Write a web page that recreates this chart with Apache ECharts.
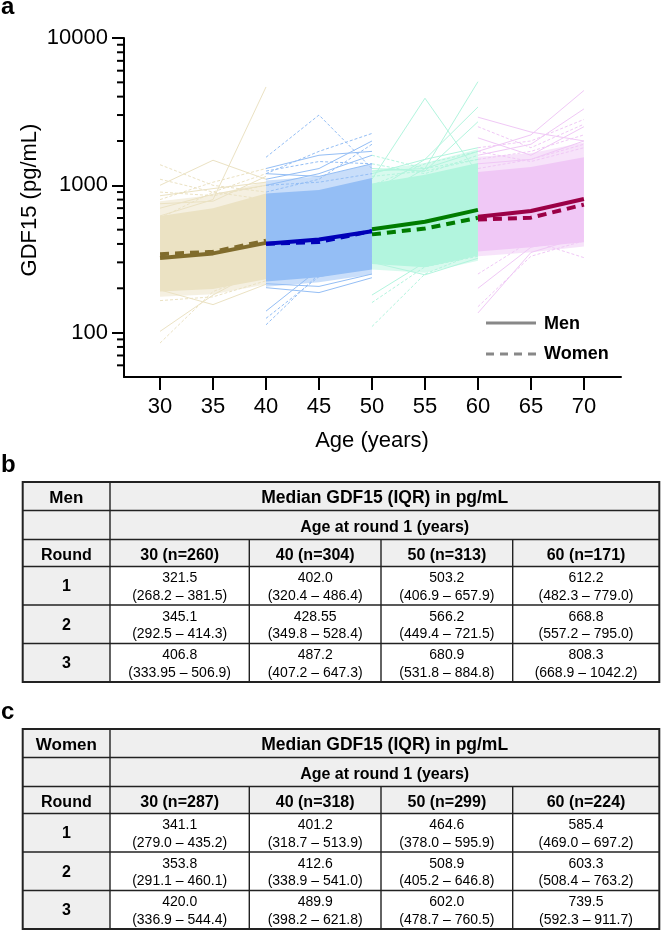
<!DOCTYPE html>
<html><head><meta charset="utf-8">
<script src="https://cdn.jsdelivr.net/npm/echarts@6/dist/echarts.min.js"></script>
<style>html,body{margin:0;padding:0;background:#fff}#c{width:661px;height:933px}</style>
</head><body><div id="c"></div>
<script>
// ---------- DATA ----------
const cohorts = ['30', '40', '50', '60'];
const roundAges = [[30, 35, 40], [40, 45, 50], [50, 55, 60], [60, 65, 70]];
const xTicks = [30, 35, 40, 45, 50, 55, 60, 65, 70];
const yMajorTicks = [100, 1000, 10000];
const yMinorTicks = [60, 70, 80, 90, 200, 300, 400, 500, 600, 700, 800, 900,
  2000, 3000, 4000, 5000, 6000, 7000, 8000, 9000];

const menN = [260, 304, 313, 171];
const womenN = [287, 318, 299, 224];

// medians per cohort, rounds 1..3
const menMedian = [['321.5', '345.1', '406.8'], ['402.0', '428.55', '487.2'], ['503.2', '566.2', '680.9'], ['612.2', '668.8', '808.3']];
const womenMedian = [['341.1', '353.8', '420.0'], ['401.2', '412.6', '489.9'], ['464.6', '508.9', '602.0'], ['585.4', '603.3', '739.5']];
// IQR per cohort, rounds 1..3
const menIQR = [
  [['268.2', '381.5'], ['292.5', '414.3'], ['333.95', '506.9']],
  [['320.4', '486.4'], ['349.8', '528.4'], ['407.2', '647.3']],
  [['406.9', '657.9'], ['449.4', '721.5'], ['531.8', '884.8']],
  [['482.3', '779.0'], ['557.2', '795.0'], ['668.9', '1042.2']]];
const womenIQR = [
  [['279.0', '435.2'], ['291.1', '460.1'], ['336.9', '544.4']],
  [['318.7', '513.9'], ['338.9', '541.0'], ['398.2', '621.8']],
  [['378.0', '595.9'], ['405.2', '646.8'], ['478.7', '760.5']],
  [['469.0', '697.2'], ['508.4', '763.2'], ['592.3', '911.7']]];

// dense region of individual trajectories, per cohort
const bandLow = [[190, 198, 230], [222, 238, 268], [292, 278, 332], [355, 380, 410]];
const bandHigh = [[620, 700, 880], [880, 930, 1120], [1030, 1180, 1420], [1230, 1330, 1550]];
// looser fringe of trajectories around the dense region
const fringeLow = [[175, 182, 212], [205, 220, 248], [268, 255, 308], [330, 352, 385]];
const fringeHigh = [[780, 860, 1060], [1080, 1150, 1400], [1260, 1420, 1760], [1560, 1650, 1950]];

// sparse individual trajectories (estimates)
const menTraj = [
  [[1000, 1480, 1100], [620, 800, 4650], [850, 950, 1050], [700, 870, 1000], [102, 180, 280], [195, 155, 213], [750, 780, 1150]],
  [[1300, 1600, 1700], [1100, 1300, 2000], [1000, 1200, 1600], [202, 187, 236], [215, 206, 250], [140, 270, 330], [1200, 1150, 1400]],
  [[1100, 3900, 1200], [800, 1300, 5050], [900, 1500, 3400], [1200, 1500, 1800], [1300, 1250, 2700], [180, 300, 350], [300, 247, 320], [1250, 1300, 1700]],
  [[2900, 2300, 2000], [1700, 2200, 4400], [1600, 1900, 3300], [2100, 1600, 2500], [136, 350, 450], [200, 380, 450], [1400, 1500, 2000]]];
const womenTraj = [
  [[1380, 1000, 900], [1100, 900, 1200], [800, 1050, 1300], [600, 900, 800], [85, 190, 260], [165, 175, 225], [900, 850, 1000]],
  [[1550, 3000, 1300], [1200, 1700, 2250], [1250, 1450, 1400], [900, 1100, 1900], [113, 250, 300], [125, 240, 280], [1000, 1050, 1200]],
  [[1400, 1200, 1600], [1000, 1400, 1700], [1600, 1300, 1500], [110, 250, 350], [160, 280, 330], [1150, 1250, 1500]],
  [[2500, 1800, 2600], [1800, 2000, 2800], [1500, 1700, 2200], [1300, 1500, 1900], [150, 330, 420], [250, 420, 323], [1700, 1450, 1800]]];

// ---------- STYLE ----------
const fam = "'Liberation Sans', Arial, Helvetica, sans-serif";
const fillColors = ['#ebe2c3', '#94bef5', '#b2f5de', '#f0c8f6'];
const medColors = ['#806c2c', '#0000b8', '#007c00', '#9b0046'];
const X_MIN = 26.6, X_MAX = 73.5;

function bandSeries(i, lo, hi, opacity, z) {
  const xs = roundAges[i];
  const item = [];
  for (let k = 0; k < 3; k++) item.push(xs[k], lo[i][k], hi[i][k]);
  return {
    type: 'custom', coordinateSystem: 'cartesian2d', silent: true, z: z,
    encode: { x: [0, 3, 6], y: [1, 2, 4, 5, 7, 8] },
    data: [item],
    renderItem: (params, api) => {
      const pts = [];
      for (let k = 0; k < 3; k++) pts.push(api.coord([api.value(k * 3), api.value(k * 3 + 2)]));
      for (let k = 2; k >= 0; k--) pts.push(api.coord([api.value(k * 3), api.value(k * 3 + 1)]));
      return { type: 'polygon', shape: { points: pts }, style: { fill: fillColors[i], opacity: opacity } };
    }
  };
}

const series = [];
cohorts.forEach((c, i) => {
  const xs = roundAges[i];
  series.push(bandSeries(i, fringeLow, fringeHigh, 0.5, 1));
  series.push(bandSeries(i, bandLow, bandHigh, 1, 2));
  const addLine = (vals, dashed) => series.push({
    type: 'line', silent: true, symbol: 'none', z: 3,
    data: xs.map((x, k) => [x, vals[k]]),
    lineStyle: { width: 1, color: fillColors[i], type: dashed ? [3, 2] : 'solid' }
  });
  menTraj[i].forEach(v => addLine(v, false));
  womenTraj[i].forEach(v => addLine(v, true));
});
cohorts.forEach((c, i) => {
  const xs = roundAges[i];
  series.push({
    type: 'line', silent: true, symbol: 'none', z: 10,
    data: xs.map((x, k) => [x, Number(menMedian[i][k])]),
    lineStyle: { width: 4, color: medColors[i] }
  });
  series.push({
    type: 'line', silent: true, symbol: 'none', z: 11,
    data: xs.map((x, k) => [x, Number(womenMedian[i][k])]),
    lineStyle: { width: 4, color: medColors[i], type: [9, 6] }
  });
});
// minor ticks of the log axis, placed through the axis scale
series.push({
  type: 'custom', coordinateSystem: 'cartesian2d', silent: true, z: 20, clip: false,
  data: yMinorTicks.map(v => [X_MIN, v]),
  renderItem: (params, api) => {
    const p = api.coord([api.value(0), api.value(1)]);
    return { type: 'line', shape: { x1: p[0] - 7, y1: p[1], x2: p[0], y2: p[1] }, style: { stroke: '#000', lineWidth: 2 } };
  }
});

// ---------- TABLES ----------
const colX = [22.7, 110, 249.3, 381, 512.7, 659.3];
const rowH = [28.5, 29, 27, 38.5, 38.5, 38.5];
function tableEls(top, label, ns, med, iqr) {
  const els = [];
  const ys = [top];
  rowH.forEach(h => ys.push(ys[ys.length - 1] + h));
  const L = colX[0], R = colX[5], B = ys[6];
  els.push({ type: 'rect', shape: { x: L, y: top, width: R - L, height: ys[3] - top }, style: { fill: '#efefef' } });
  els.push({ type: 'rect', shape: { x: L, y: ys[3], width: colX[1] - L, height: B - ys[3] }, style: { fill: '#efefef' } });
  const ln = (x1, y1, x2, y2) => els.push({ type: 'line', shape: { x1, y1, x2, y2 }, style: { stroke: '#222', lineWidth: 1.4 } });
  for (let r = 1; r < 6; r++) ln(L, ys[r], R, ys[r]);
  ln(colX[1], top, colX[1], B);
  for (let c = 2; c < 5; c++) ln(colX[c], ys[2], colX[c], B);
  els.push({ type: 'rect', shape: { x: L, y: top, width: R - L, height: B - top }, style: { fill: 'none', stroke: '#222', lineWidth: 2 } });
  const txt = (s, x, y, size, bold) => els.push({
    type: 'text', x, y, z: 5,
    style: { text: s, fill: '#000', font: (bold ? 'bold ' : '') + size + 'px ' + fam, align: 'center', verticalAlign: 'middle' }
  });
  const c1 = (colX[0] + colX[1]) / 2, cAll = (colX[1] + colX[5]) / 2;
  txt(label, c1, (ys[0] + ys[1]) / 2 + 2, 17, true);
  txt('Median GDF15 (IQR) in pg/mL', cAll, (ys[0] + ys[1]) / 2 + 2, 17.5, true);
  txt('Age at round 1 (years)', cAll, (ys[1] + ys[2]) / 2 + 3, 16, true);
  txt('Round', c1, (ys[2] + ys[3]) / 2 + 3, 16, true);
  for (let c = 0; c < 4; c++) {
    const cx = (colX[c + 1] + colX[c + 2]) / 2;
    txt(cohorts[c] + ' (n=' + ns[c] + ')', cx, (ys[2] + ys[3]) / 2 + 3, 16, true);
    for (let r = 0; r < 3; r++) {
      const t = ys[3 + r];
      txt(med[c][r], cx, t + 12, 14, false);
      txt('(' + iqr[c][r][0] + ' \u2013 ' + iqr[c][r][1] + ')', cx, t + 29.5, 14, false);
    }
  }
  for (let r = 0; r < 3; r++) txt(String(r + 1), c1, (ys[3 + r] + ys[4 + r]) / 2 + 1, 16, true);
  return els;
}

const graphics = [
  { type: 'text', x: 1, y: 7, style: { text: 'a', font: 'bold 24px ' + fam, fill: '#000', align: 'left', verticalAlign: 'middle' } },
  { type: 'text', x: 1, y: 465, style: { text: 'b', font: 'bold 24px ' + fam, fill: '#000', align: 'left', verticalAlign: 'middle' } },
  { type: 'text', x: 1, y: 712, style: { text: 'c', font: 'bold 24px ' + fam, fill: '#000', align: 'left', verticalAlign: 'middle' } },
  { type: 'text', x: 30, y: 200, rotation: Math.PI / 2, style: { text: 'GDF15 (pg/mL)', font: '22px ' + fam, fill: '#000', align: 'center', verticalAlign: 'middle' } },
  { type: 'text', x: 372, y: 441, style: { text: 'Age (years)', font: '22px ' + fam, fill: '#000', align: 'center', verticalAlign: 'middle' } },
  // legend
  { type: 'line', shape: { x1: 486, y1: 323, x2: 536, y2: 323 }, style: { stroke: '#888', lineWidth: 3 } },
  { type: 'line', shape: { x1: 486, y1: 354, x2: 537, y2: 354 }, style: { stroke: '#888', lineWidth: 3, lineDash: [8, 6] } },
  { type: 'text', x: 544, y: 324, style: { text: 'Men', font: 'bold 18px ' + fam, fill: '#000', align: 'left', verticalAlign: 'middle' } },
  { type: 'text', x: 544, y: 354, style: { text: 'Women', font: 'bold 18px ' + fam, fill: '#000', align: 'left', verticalAlign: 'middle' } }
].concat(tableEls(482, 'Men', menN, menMedian, menIQR), tableEls(729, 'Women', womenN, womenMedian, womenIQR));

const chart = echarts.init(document.getElementById('c'), null, { renderer: 'canvas' });
chart.setOption({
  animation: false,
  backgroundColor: '#fff',
  grid: { left: 124, top: 38, right: 40, bottom: 556, containLabel: false },
  xAxis: {
    type: 'value', min: X_MIN, max: X_MAX,
    axisLine: { onZero: false, lineStyle: { color: '#000', width: 2 } },
    axisTick: { customValues: xTicks, length: 13, lineStyle: { color: '#000', width: 2 } },
    axisLabel: { customValues: xTicks, margin: 19, fontSize: 22, fontFamily: fam, color: '#000' },
    splitLine: { show: false }
  },
  yAxis: {
    type: 'log', logBase: 10, min: 50, max: 10000,
    axisLine: { show: true, lineStyle: { color: '#000', width: 2 } },
    axisTick: { show: true, customValues: yMajorTicks, length: 12, lineStyle: { color: '#000', width: 2 } },
    axisLabel: { customValues: yMajorTicks, margin: 16, fontSize: 22, fontFamily: fam, color: '#000', formatter: v => String(Math.round(v)) },
    splitLine: { show: false }
  },
  series: series,
  graphic: graphics
});
</script></body></html>
